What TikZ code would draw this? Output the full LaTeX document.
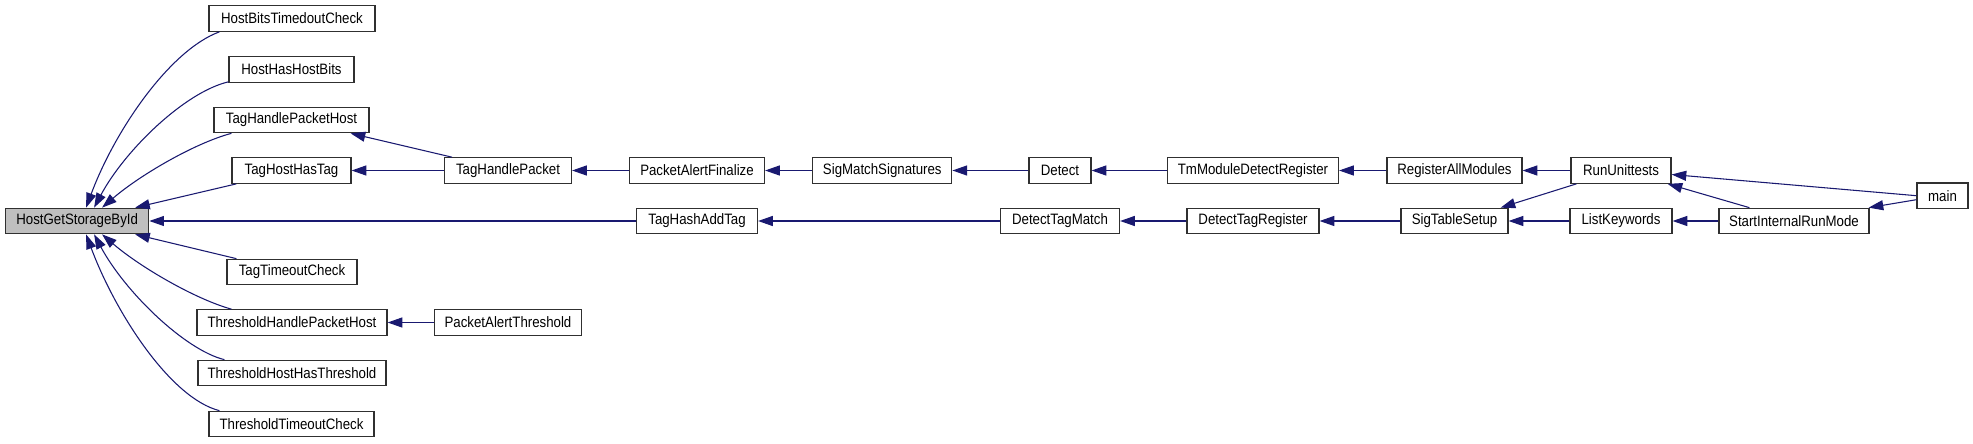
\documentclass[tikz,border=0pt]{standalone}
\usepackage{fontspec}
\setmainfont{Liberation Sans}[FakeStretch=0.88]
\usetikzlibrary{arrows.meta,calc}
\definecolor{edgec}{HTML}{191970}
\definecolor{hlfill}{HTML}{BFBFBF}
\definecolor{boxline}{HTML}{303030}
\begin{document}
\begin{tikzpicture}[x=0.75pt,y=-0.75pt,
  box/.style={draw=boxline, line width=0.9pt, inner sep=0pt, minimum height=25.5*0.75pt,
    font=\fontsize{11.3}{13}\selectfont, fill=white, anchor=center},
  w/.style={minimum width=#1*0.75pt},
  edge/.style={draw=edgec, line width=0.8pt, -{Triangle[length=11pt,width=7.5pt]}}]
\useasboundingbox (0,0) rectangle (1973,443);
% nodes
\node[box,w=143,fill=hlfill] (HGSB) at (77.2,221) {HostGetStorageById};
\node[box,w=166] (HBTC) at (292,18.5) {HostBitsTimedoutCheck};
\node[box,w=125] (HHHB) at (291.5,69.5) {HostHasHostBits};
\node[box,w=155] (THPH) at (291.5,120) {TagHandlePacketHost};
\node[box,w=119] (THHT) at (291.5,170.5) {TagHostHasTag};
\node[box,w=130] (TTC) at (292,272) {TagTimeoutCheck};
\node[box,w=190] (ThHPH) at (292,322.5) {ThresholdHandlePacketHost};
\node[box,w=188] (ThHHT) at (292,373) {ThresholdHostHasThreshold};
\node[box,w=165] (ThTC) at (291.5,424) {ThresholdTimeoutCheck};
\node[box,w=127] (THP) at (508,170.5) {TagHandlePacket};
\node[box,w=135] (PAF) at (697,170.5) {PacketAlertFinalize};
\node[box,w=121] (THAT) at (697,221) {TagHashAddTag};
\node[box,w=147] (PAT) at (508,322.5) {PacketAlertThreshold};
\node[box,w=139] (SMS) at (882.3,170.5) {SigMatchSignatures};
\node[box,w=62] (DET) at (1060,170.5) {Detect};
\node[box,w=119] (DTM) at (1060,221) {DetectTagMatch};
\node[box,w=171] (TMDR) at (1253,170.5) {TmModuleDetectRegister};
\node[box,w=135] (RAM) at (1454.5,170.5) {RegisterAllModules};
\node[box,w=132] (DTR) at (1253,221) {DetectTagRegister};
\node[box,w=107] (STS) at (1454.5,221) {SigTableSetup};
\node[box,w=100] (RUT) at (1621,170.5) {RunUnittests};
\node[box,w=102] (LKW) at (1621,221) {ListKeywords};
\node[box,w=150] (SIRM) at (1794,221) {StartInternalRunMode};
\node[box,w=51] (MAIN) at (1942.5,195.7) {main};
% edges into HostGetStorageById
\draw[edge] ($(HBTC.south west)+(11,0)$) .. controls (170,50) and (115,130) .. ($(HGSB.north west)+(81,0)$);
\draw[edge] ($(HHHB.south west)+(0,-1)$) .. controls (185,92) and (125,150) .. ($(HGSB.north west)+(89,0)$);
\draw[edge] ($(THPH.south west)+(18,0)$) .. controls (195,143) and (140,175) .. ($(HGSB.north west)+(97,0)$);
\draw[edge] ($(THHT.south west)+(5,0)$) -- ($(HGSB.north west)+(130,0)$);
\draw[edge] ($(TTC.north west)+(10,0)$) -- ($(HGSB.south west)+(130,0)$);
\draw[edge] ($(ThHPH.north west)+(35,0)$) .. controls (195,299) and (140,267) .. ($(HGSB.south west)+(97,0)$);
\draw[edge] ($(ThHHT.north west)+(27,0)$) .. controls (185,350) and (125,292) .. ($(HGSB.south west)+(89,0)$);
\draw[edge] ($(ThTC.north west)+(11,0)$) .. controls (170,398) and (115,312) .. ($(HGSB.south west)+(81,0)$);
\draw[edge] (THAT.west) -- (HGSB.east);
% other edges
\draw[edge] ($(THP.north west)+(8,0)$) -- ($(THPH.south east)+(-19,0)$);
\draw[edge] (THP.west) -- (THHT.east);
\draw[edge] (PAF.west) -- (THP.east);
\draw[edge] (SMS.west) -- (PAF.east);
\draw[edge] (DET.west) -- (SMS.east);
\draw[edge] (TMDR.west) -- (DET.east);
\draw[edge] (RAM.west) -- (TMDR.east);
\draw[edge] (RUT.west) -- (RAM.east);
\draw[edge] (DTM.west) -- (THAT.east);
\draw[edge] (DTR.west) -- (DTM.east);
\draw[edge] (STS.west) -- (DTR.east);
\draw[edge] ($(RUT.south west)+(6,0)$) -- ($(STS.north east)+(-8,0)$);
\draw[edge] (LKW.west) -- (STS.east);
\draw[edge] (MAIN.west) -- ($(RUT.east)+(0,4)$);
\draw[edge] ($(SIRM.north west)+(31,0)$) -- ($(RUT.south east)+(-4,0)$);
\draw[edge] (SIRM.west) -- (LKW.east);
\draw[edge] ($(MAIN.west)+(0,4)$) -- ($(SIRM.north east)+(-1,0)$);
\draw[edge] (PAT.west) -- (ThHPH.east);
\end{tikzpicture}
\end{document}
